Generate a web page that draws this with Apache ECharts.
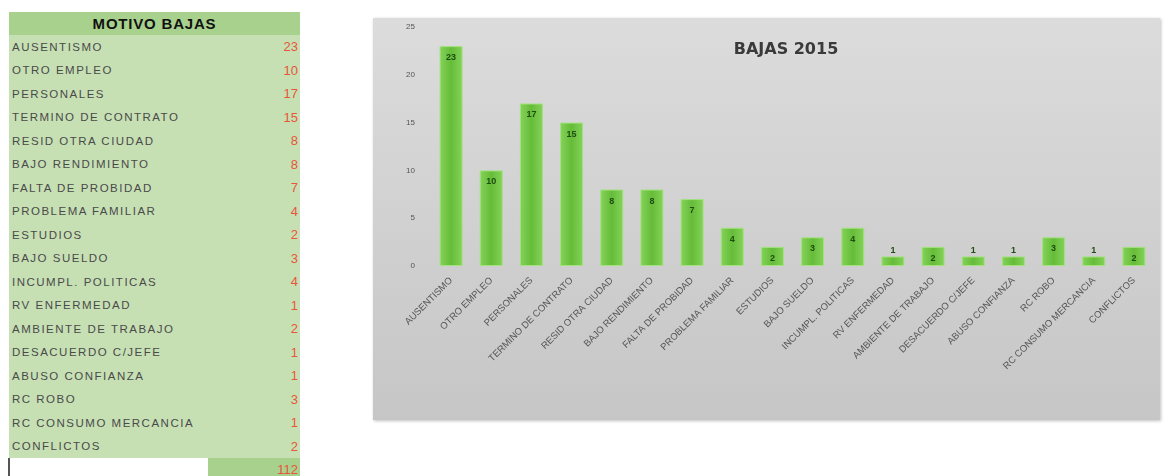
<!DOCTYPE html>
<html>
<head>
<meta charset="utf-8">
<script src="https://cdn.jsdelivr.net/npm/echarts@6/dist/echarts.min.js"></script>
<style>
  body { margin: 0; background: #fff; width: 1167px; height: 476px; overflow: hidden; position: relative; font-family: "Liberation Sans", Arial, sans-serif; }
  #tabla { position: absolute; left: 8px; top: 12px; width: 292px; border-collapse: collapse; font-size: 11.5px; letter-spacing: 1.5px; }
  #tabla td { padding: 0 2px 0 3px; height: 23.5px; color: #4a4a4a; white-space: nowrap; }
  #tabla th { height: 21px; background: #a9d18e; font-size: 15px; font-weight: bold; color: #111; letter-spacing: 0.8px; }
  #tabla td.v { text-align: right; color: #e8553a; font-size: 13px; letter-spacing: 0; }
  #tabla tr.r td { background: #c6e0b4; }
  #panel { position: absolute; left: 373px; top: 18px; width: 787px; height: 402px; box-shadow: 1px 1px 3px rgba(0,0,0,0.25); }
</style>
</head>
<body>
<table id="tabla"></table>
<div id="panel"></div>
<script>
// motivos de baja 2015
var motivos = ['AUSENTISMO', 'OTRO EMPLEO', 'PERSONALES', 'TERMINO DE CONTRATO', 'RESID OTRA CIUDAD',
  'BAJO RENDIMIENTO', 'FALTA DE PROBIDAD', 'PROBLEMA FAMILIAR', 'ESTUDIOS', 'BAJO SUELDO',
  'INCUMPL. POLITICAS', 'RV ENFERMEDAD', 'AMBIENTE DE TRABAJO', 'DESACUERDO C/JEFE',
  'ABUSO CONFIANZA', 'RC ROBO', 'RC CONSUMO MERCANCIA', 'CONFLICTOS'];
var bajas = [23, 10, 17, 15, 8, 8, 7, 4, 2, 3, 4, 1, 2, 1, 1, 3, 1, 2];
var yTicks = [0, 5, 10, 15, 20, 25];

// tabla de la izquierda
var total = bajas.reduce(function (a, b) { return a + b; }, 0);
var html = '<tr><th colspan="2">MOTIVO BAJAS</th></tr>';
motivos.forEach(function (m, i) {
  html += '<tr class="r"><td>' + m + '</td><td class="v">' + bajas[i] + '</td></tr>';
});
html += '<tr><td style="background:#fff;border-left:2px solid #555;width:193px"></td>' +
  '<td class="v" style="background:#a9d18e">' + total + '</td></tr>';
document.getElementById('tabla').innerHTML = html;

var chart = echarts.init(document.getElementById('panel'));

var option = {
  backgroundColor: {
    type: 'linear', x: 0, y: 0, x2: 0, y2: 1,
    colorStops: [{ offset: 0, color: '#dcdcdc' }, { offset: 1, color: '#c6c6c6' }]
  },
  animation: false,
  title: {
    text: 'BAJAS 2015',
    left: 408,
    top: 19,
    textAlign: 'center',
    textStyle: { fontFamily: 'DejaVu Sans', fontSize: 16, fontWeight: 'bold', color: '#3a3a3a' }
  },
  grid: { left: 58, right: 6, top: 9, bottom: 154 },
  xAxis: {
    type: 'category',
    data: motivos,
    axisLine: { show: false },
    axisTick: { show: false },
    axisLabel: { rotate: 45, interval: 0, margin: 13, fontSize: 9.5, color: '#555', fontFamily: 'Liberation Sans' }
  },
  yAxis: {
    type: 'value',
    min: yTicks[0],
    max: yTicks[yTicks.length - 1],
    interval: 5,
    axisLine: { show: false },
    axisTick: { show: false },
    splitLine: { show: false },
    axisLabel: { fontSize: 8, color: '#555', margin: 16 }
  },
  series: [{
    type: 'bar',
    barWidth: 23,
    data: bajas.map(function (v) {
      return v < 2 ? { value: v, label: { position: 'top', distance: 1 } } : v;
    }),
    itemStyle: {
      color: {
        type: 'linear', x: 0, y: 0, x2: 1, y2: 0,
        colorStops: [{ offset: 0, color: '#84d35a' }, { offset: 0.5, color: '#66bc38' }, { offset: 1, color: '#84d35a' }]
      },
      borderColor: '#a2e27f',
      borderWidth: 1
    },
    label: {
      show: true,
      position: 'insideTop',
      distance: 7,
      fontSize: 9,
      fontWeight: 'bold',
      color: '#1e4d12'
    }
  }]
};

chart.setOption(option);
</script>
</body>
</html>
